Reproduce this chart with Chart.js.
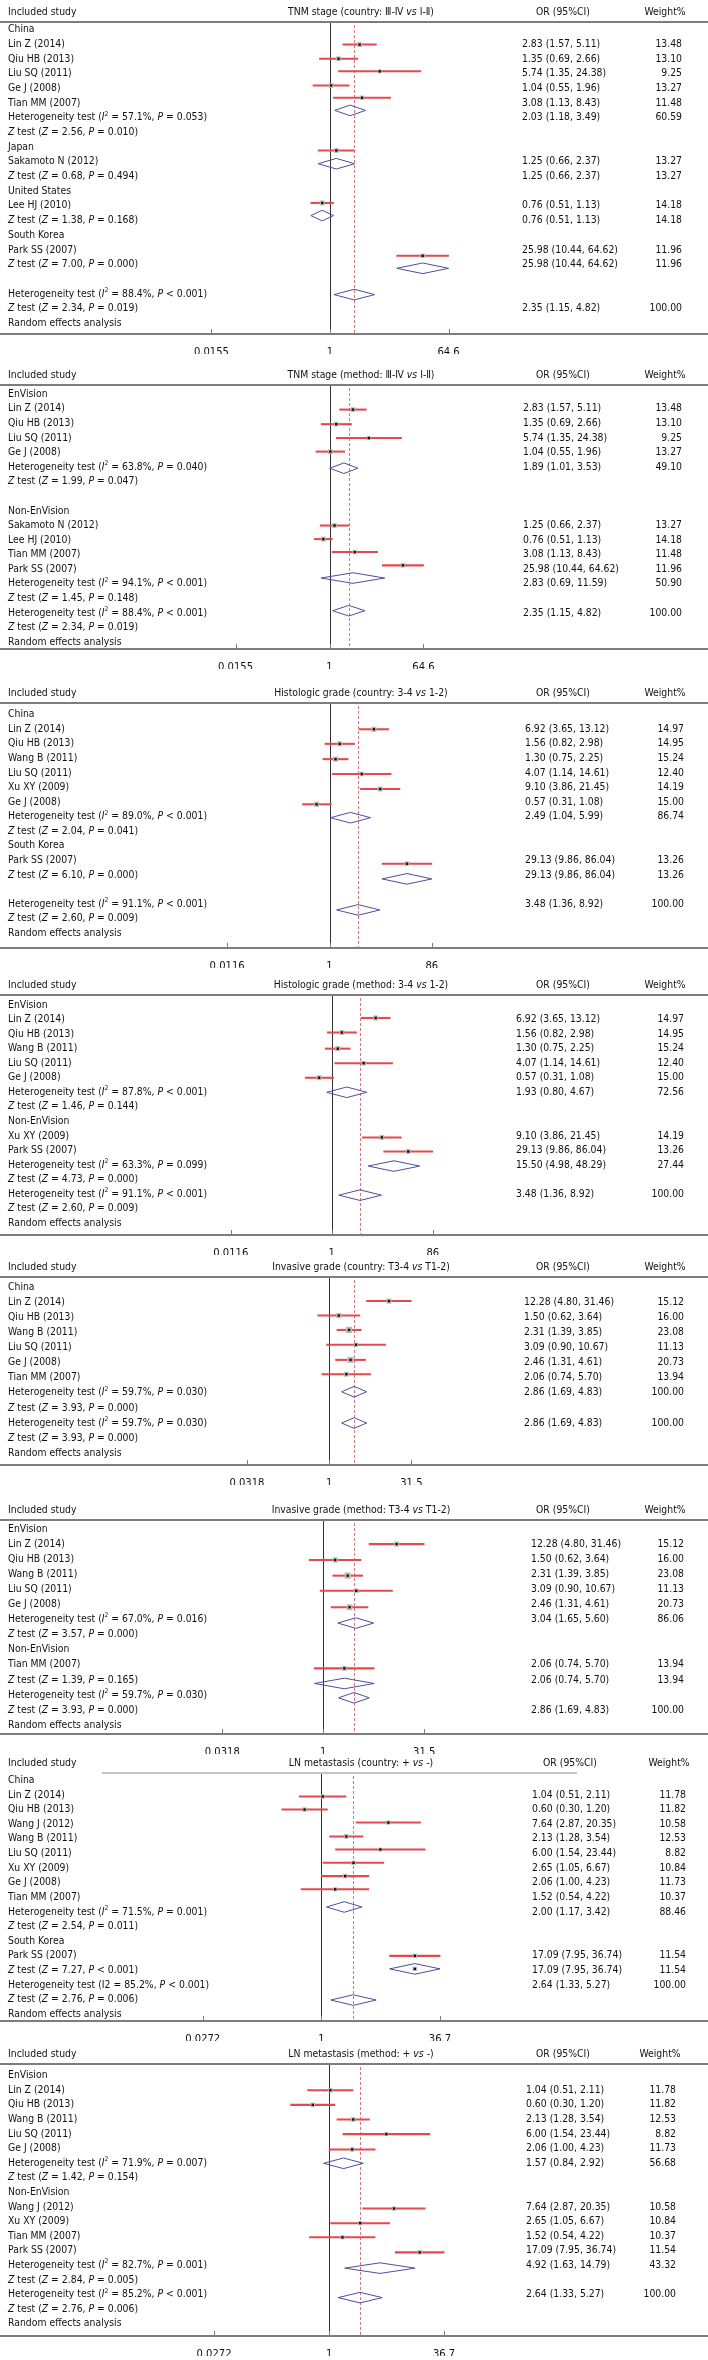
<!DOCTYPE html>
<html>
<head>
<meta charset="utf-8">
<script src="https://cdn.jsdelivr.net/npm/chart.js@4.4.1/dist/chart.umd.min.js"></script>
<style>
  html, body { margin: 0; padding: 0; background: #fff; }
  #page { position: relative; width: 708px; height: 2360px; overflow: hidden; }
  #page canvas { position: absolute; left: 0; }
</style>
</head>
<body>
<div id="page"></div>
<script>
// ---- data ----
// rows: left column text, one entry per row ("" = empty row)
// or/lo/hi/wt: one entry per estimate; kind: s = study square, d = pooled diamond,
//   b = pooled diamond of a single study (square drawn inside it)
// textRow: row where the numbers are printed, markRow: where the mark sits (row units)

const tnmCountryTitle = "TNM stage (country: Ⅲ-Ⅳ *vs* Ⅰ-Ⅱ)";
const tnmCountryRows = ["China", "Lin Z (2014)", "Qiu HB (2013)", "Liu SQ (2011)", "Ge J (2008)", "Tian MM (2007)",
  "Heterogeneity test (*I*^2^ = 57.1%, *P* = 0.053)", "*Z* test (*Z* = 2.56, *P* = 0.010)",
  "Japan", "Sakamoto N (2012)", "*Z* test (*Z* = 0.68, *P* = 0.494)",
  "United States", "Lee HJ (2010)", "*Z* test (*Z* = 1.38, *P* = 0.168)",
  "South Korea", "Park SS (2007)", "*Z* test (*Z* = 7.00, *P* = 0.000)", "",
  "Heterogeneity test (*I*^2^ = 88.4%, *P* < 0.001)", "*Z* test (*Z* = 2.34, *P* = 0.019)", "Random effects analysis"];
const tnmCountryOr = [2.83, 1.35, 5.74, 1.04, 3.08, 2.03, 1.25, 1.25, 0.76, 0.76, 25.98, 25.98, 2.35];
const tnmCountryLo = [1.57, 0.69, 1.35, 0.55, 1.13, 1.18, 0.66, 0.66, 0.51, 0.51, 10.44, 10.44, 1.15];
const tnmCountryHi = [5.11, 2.66, 24.38, 1.96, 8.43, 3.49, 2.37, 2.37, 1.13, 1.13, 64.62, 64.62, 4.82];
const tnmCountryWt = [13.48, 13.10, 9.25, 13.27, 11.48, 60.59, 13.27, 13.27, 14.18, 14.18, 11.96, 11.96, 100];
const tnmCountryKind = "sssssdsdsdsdd";
const tnmCountryTextRow = [1, 2, 3, 4, 5, 6, 9, 10, 12, 13, 15, 16, 19];
const tnmCountryMarkRow = [1.02, 1.98, 2.84, 3.8, 4.64, 5.5, 8.23, 9.13, 11.8, 12.66, 15.4, 16.25, 18.04];
const tnmCountryTicks = [0.0155, 1, 64.6];

const tnmMethodTitle = "TNM stage (method: Ⅲ-Ⅳ *vs* Ⅰ-Ⅱ)";
const tnmMethodRows = ["EnVision", "Lin Z (2014)", "Qiu HB (2013)", "Liu SQ (2011)", "Ge J (2008)",
  "Heterogeneity test (*I*^2^ = 63.8%, *P* = 0.040)", "*Z* test (*Z* = 1.99, *P* = 0.047)", "",
  "Non-EnVision", "Sakamoto N (2012)", "Lee HJ (2010)", "Tian MM (2007)", "Park SS (2007)",
  "Heterogeneity test (*I*^2^ = 94.1%, *P* < 0.001)", "*Z* test (*Z* = 1.45, *P* = 0.148)",
  "Heterogeneity test (*I*^2^ = 88.4%, *P* < 0.001)", "*Z* test (*Z* = 2.34, *P* = 0.019)", "Random effects analysis"];
const tnmMethodOr = [2.83, 1.35, 5.74, 1.04, 1.89, 1.25, 0.76, 3.08, 25.98, 2.83, 2.35];
const tnmMethodLo = [1.57, 0.69, 1.35, 0.55, 1.01, 0.66, 0.51, 1.13, 10.44, 0.69, 1.15];
const tnmMethodHi = [5.11, 2.66, 24.38, 1.96, 3.53, 2.37, 1.13, 8.43, 64.62, 11.59, 4.82];
const tnmMethodWt = [13.48, 13.10, 9.25, 13.27, 49.10, 13.27, 14.18, 11.48, 11.96, 50.90, 100];
const tnmMethodKind = "ssssdssssdd";
const tnmMethodTextRow = [1, 2, 3, 4, 5, 9, 10, 11, 12, 13, 15];
const tnmMethodMarkRow = [1.05, 2.05, 3.0, 3.93, 5.07, 9.0, 9.93, 10.82, 11.73, 12.6, 14.84];
const tnmMethodTicks = [0.0155, 1, 64.6];

const histCountryTitle = "Histologic grade (country: 3-4 *vs* 1-2)";
const histCountryRows = ["China", "Lin Z (2014)", "Qiu HB (2013)", "Wang B (2011)", "Liu SQ (2011)", "Xu XY (2009)", "Ge J (2008)",
  "Heterogeneity test (*I*^2^ = 89.0%, *P* < 0.001)", "*Z* test (*Z* = 2.04, *P* = 0.041)",
  "South Korea", "Park SS (2007)", "*Z* test (*Z* = 6.10, *P* = 0.000)", "",
  "Heterogeneity test (*I*^2^ = 91.1%, *P* < 0.001)", "*Z* test (*Z* = 2.60, *P* = 0.009)", "Random effects analysis"];
const histCountryOr = [6.92, 1.56, 1.30, 4.07, 9.10, 0.57, 2.49, 29.13, 29.13, 3.48];
const histCountryLo = [3.65, 0.82, 0.75, 1.14, 3.86, 0.31, 1.04, 9.86, 9.86, 1.36];
const histCountryHi = [13.12, 2.98, 2.25, 14.61, 21.45, 1.08, 5.99, 86.04, 86.04, 8.92];
const histCountryWt = [14.97, 14.95, 15.24, 12.40, 14.19, 15.00, 86.74, 13.26, 13.26, 100];
const histCountryKind = "ssssssdsdd";
const histCountryTextRow = [1, 2, 3, 4, 5, 6, 7, 10, 11, 13];
const histCountryMarkRow = [1.0, 2.0, 3.05, 4.07, 5.1, 6.15, 7.07, 10.23, 11.27, 13.4];
const histCountryTicks = [0.0116, 1, 86];

const histMethodTitle = "Histologic grade (method: 3-4 *vs* 1-2)";
const histMethodRows = ["EnVision", "Lin Z (2014)", "Qiu HB (2013)", "Wang B (2011)", "Liu SQ (2011)", "Ge J (2008)",
  "Heterogeneity test (*I*^2^ = 87.8%, *P* < 0.001)", "*Z* test (*Z* = 1.46, *P* = 0.144)",
  "Non-EnVision", "Xu XY (2009)", "Park SS (2007)",
  "Heterogeneity test (*I*^2^ = 63.3%, *P* = 0.099)", "*Z* test (*Z* = 4.73, *P* = 0.000)",
  "Heterogeneity test (*I*^2^ = 91.1%, *P* < 0.001)", "*Z* test (*Z* = 2.60, *P* = 0.009)", "Random effects analysis"];
const histMethodOr = [6.92, 1.56, 1.30, 4.07, 0.57, 1.93, 9.10, 29.13, 15.50, 3.48];
const histMethodLo = [3.65, 0.82, 0.75, 1.14, 0.31, 0.80, 3.86, 9.86, 4.98, 1.36];
const histMethodHi = [13.12, 2.98, 2.25, 14.61, 1.08, 4.67, 21.45, 86.04, 48.29, 8.92];
const histMethodWt = [14.97, 14.95, 15.24, 12.40, 15.00, 72.56, 14.19, 13.26, 27.44, 100];
const histMethodKind = "sssssdssdd";
const histMethodTextRow = [1, 2, 3, 4, 5, 6, 9, 10, 11, 13];
const histMethodMarkRow = [0.89, 1.89, 3.0, 4.0, 5.0, 6.0, 9.1, 10.07, 11.07, 13.07];
const histMethodTicks = [0.0116, 1, 86];

const invCountryTitle = "Invasive grade (country: T3-4 *vs* T1-2)";
const invCountryRows = ["China", "Lin Z (2014)", "Qiu HB (2013)", "Wang B (2011)", "Liu SQ (2011)", "Ge J (2008)", "Tian MM (2007)",
  "Heterogeneity test (*I*^2^ = 59.7%, *P* = 0.030)", "*Z* test (*Z* = 3.93, *P* = 0.000)",
  "Heterogeneity test (*I*^2^ = 59.7%, *P* = 0.030)", "*Z* test (*Z* = 3.93, *P* = 0.000)", "Random effects analysis"];
const invCountryOr = [12.28, 1.50, 2.31, 3.09, 2.46, 2.06, 2.86, 2.86];
const invCountryLo = [4.80, 0.62, 1.39, 0.90, 1.31, 0.74, 1.69, 1.69];
const invCountryHi = [31.46, 3.64, 3.85, 10.67, 4.61, 5.70, 4.83, 4.83];
const invCountryWt = [15.12, 16.00, 23.08, 11.13, 20.73, 13.94, 100, 100];
const invCountryKind = "ssssssdd";
const invCountryTextRow = [1, 2, 3, 4, 5, 6, 7, 9];
const invCountryMarkRow = [0.93, 1.89, 2.84, 3.82, 4.82, 5.77, 6.93, 9.0];
const invCountryTicks = [0.0318, 1, 31.5];

const invMethodTitle = "Invasive grade (method: T3-4 *vs* T1-2)";
const invMethodRows = ["EnVision", "Lin Z (2014)", "Qiu HB (2013)", "Wang B (2011)", "Liu SQ (2011)", "Ge J (2008)",
  "Heterogeneity test (*I*^2^ = 67.0%, *P* = 0.016)", "*Z* test (*Z* = 3.57, *P* = 0.000)",
  "Non-EnVision", "Tian MM (2007)", "*Z* test (*Z* = 1.39, *P* = 0.165)",
  "Heterogeneity test (*I*^2^ = 59.7%, *P* = 0.030)", "*Z* test (*Z* = 3.93, *P* = 0.000)", "Random effects analysis"];
const invMethodOr = [12.28, 1.50, 2.31, 3.09, 2.46, 3.04, 2.06, 2.06, 2.86];
const invMethodLo = [4.80, 0.62, 1.39, 0.90, 1.31, 1.65, 0.74, 0.74, 1.69];
const invMethodHi = [31.46, 3.64, 3.85, 10.67, 4.61, 5.60, 5.70, 5.70, 4.83];
const invMethodWt = [15.12, 16.00, 23.08, 11.13, 20.73, 86.06, 13.94, 13.94, 100];
const invMethodKind = "sssssdsdd";
const invMethodTextRow = [1, 2, 3, 4, 5, 6, 9, 10, 12];
const invMethodMarkRow = [1.0, 2.05, 3.09, 4.09, 5.18, 6.23, 9.23, 10.23, 11.18];
const invMethodTicks = [0.0318, 1, 31.5];

const lnCountryTitle = "LN metastasis (country: + *vs* -)";
const lnCountryRows = ["China", "Lin Z (2014)", "Qiu HB (2013)", "Wang J (2012)", "Wang B (2011)", "Liu SQ (2011)", "Xu XY (2009)", "Ge J (2008)", "Tian MM (2007)",
  "Heterogeneity test (*I*^2^ = 71.5%, *P* = 0.001)", "*Z* test (*Z* = 2.54, *P* = 0.011)",
  "South Korea", "Park SS (2007)", "*Z* test (*Z* = 7.27, *P* < 0.001)",
  "Heterogeneity test (I2 = 85.2%, *P* < 0.001)", "*Z* test (*Z* = 2.76, *P* = 0.006)", "Random effects analysis"];
const lnCountryOr = [1.04, 0.60, 7.64, 2.13, 6.00, 2.65, 2.06, 1.52, 2.00, 17.09, 17.09, 2.64];
const lnCountryLo = [0.51, 0.30, 2.87, 1.28, 1.54, 1.05, 1.00, 0.54, 1.17, 7.95, 7.95, 1.33];
const lnCountryHi = [2.11, 1.20, 20.35, 3.54, 23.44, 6.67, 4.23, 4.22, 3.42, 36.74, 36.74, 5.27];
const lnCountryWt = [11.78, 11.82, 10.58, 12.53, 8.82, 10.84, 11.73, 10.37, 88.46, 11.54, 11.54, 100];
const lnCountryKind = "ssssssssdsbd";
const lnCountryTextRow = [1, 2, 3, 4, 5, 6, 7, 8, 9, 12, 13, 14];
const lnCountryMarkRow = [1.11, 2.0, 2.89, 3.84, 4.73, 5.64, 6.55, 7.45, 8.66, 12.0, 12.89, 15.02];
const lnCountryTicks = [0.0272, 1, 36.7];

const lnMethodTitle = "LN metastasis (method: + *vs* -)";
const lnMethodRows = ["EnVision", "Lin Z (2014)", "Qiu HB (2013)", "Wang B (2011)", "Liu SQ (2011)", "Ge J (2008)",
  "Heterogeneity test (*I*^2^ = 71.9%, *P* = 0.007)", "*Z* test (*Z* = 1.42, *P* = 0.154)",
  "Non-EnVision", "Wang J (2012)", "Xu XY (2009)", "Tian MM (2007)", "Park SS (2007)",
  "Heterogeneity test (*I*^2^ = 82.7%, *P* = 0.001)", "*Z* test (*Z* = 2.84, *P* = 0.005)",
  "Heterogeneity test (*I*^2^ = 85.2%, *P* < 0.001)", "*Z* test (*Z* = 2.76, *P* = 0.006)", "Random effects analysis"];
const lnMethodOr = [1.04, 0.60, 2.13, 6.00, 2.06, 1.57, 7.64, 2.65, 1.52, 17.09, 4.92, 2.64];
const lnMethodLo = [0.51, 0.30, 1.28, 1.54, 1.00, 0.84, 2.87, 1.05, 0.54, 7.95, 1.63, 1.33];
const lnMethodHi = [2.11, 1.20, 3.54, 23.44, 4.23, 2.92, 20.35, 6.67, 4.22, 36.74, 14.79, 5.27];
const lnMethodWt = [11.78, 11.82, 12.53, 8.82, 11.73, 56.68, 10.58, 10.84, 10.37, 11.54, 43.32, 100];
const lnMethodKind = "sssssdssssdd";
const lnMethodTextRow = [1, 2, 3, 4, 5, 6, 9, 10, 11, 12, 13, 15];
const lnMethodMarkRow = [1.0, 2.0, 3.0, 4.0, 5.05, 6.0, 9.1, 10.1, 11.07, 12.1, 13.18, 15.2];
const lnMethodTicks = [0.0272, 1, 36.7];

// ---- page layout (pixels), kept apart from the data ----
// lineY: header rule, row0/rowH: first text row and row spacing, axisY: bottom axis,
// x1: pixel of OR = 1, k: pixels per decade, orX/wtX: number columns
const layout = [
  { lineY: 21.7,   row0: 29.3,   rowH: 14.67, axisY: 333.3,  x1: 330,   k: 65.5, orX: 522, wtX: 682 },
  { lineY: 385,    row0: 394.3,  rowH: 14.6,  axisY: 649.3,  x1: 329.5, k: 51.9, orX: 523, wtX: 682 },
  { lineY: 703.3,  row0: 715,    rowH: 14.55, axisY: 948,    x1: 329.5, k: 52.9, orX: 525, wtX: 684 },
  { lineY: 995,    row0: 1005,   rowH: 14.55, axisY: 1235,   x1: 331.8, k: 52.2, orX: 516, wtX: 684 },
  { lineY: 1277.3, row0: 1287.3, rowH: 15.09, axisY: 1465,   x1: 329.1, k: 54.9, orX: 524, wtX: 684 },
  { lineY: 1520,   row0: 1529,   rowH: 15.1,  axisY: 1734,   x1: 323.2, k: 67.4, orX: 531, wtX: 684 },
  { lineY: 1772.7, row0: 1780,   rowH: 14.63, axisY: 2020.7, x1: 321.4, k: 75.8, orX: 532, wtX: 686, rule: [102, 577], orHead: 570, wtHead: 669 },
  { lineY: 2064,   row0: 2075.7, rowH: 14.6,  axisY: 2336,   x1: 329.1, k: 73.5, orX: 526, wtX: 676, wtHead: 660 }
];

const panels = [
  { title: tnmCountryTitle, rows: tnmCountryRows, or: tnmCountryOr, lo: tnmCountryLo, hi: tnmCountryHi, wt: tnmCountryWt, kind: tnmCountryKind, textRow: tnmCountryTextRow, markRow: tnmCountryMarkRow, ticks: tnmCountryTicks },
  { title: tnmMethodTitle, rows: tnmMethodRows, or: tnmMethodOr, lo: tnmMethodLo, hi: tnmMethodHi, wt: tnmMethodWt, kind: tnmMethodKind, textRow: tnmMethodTextRow, markRow: tnmMethodMarkRow, ticks: tnmMethodTicks },
  { title: histCountryTitle, rows: histCountryRows, or: histCountryOr, lo: histCountryLo, hi: histCountryHi, wt: histCountryWt, kind: histCountryKind, textRow: histCountryTextRow, markRow: histCountryMarkRow, ticks: histCountryTicks },
  { title: histMethodTitle, rows: histMethodRows, or: histMethodOr, lo: histMethodLo, hi: histMethodHi, wt: histMethodWt, kind: histMethodKind, textRow: histMethodTextRow, markRow: histMethodMarkRow, ticks: histMethodTicks },
  { title: invCountryTitle, rows: invCountryRows, or: invCountryOr, lo: invCountryLo, hi: invCountryHi, wt: invCountryWt, kind: invCountryKind, textRow: invCountryTextRow, markRow: invCountryMarkRow, ticks: invCountryTicks },
  { title: invMethodTitle, rows: invMethodRows, or: invMethodOr, lo: invMethodLo, hi: invMethodHi, wt: invMethodWt, kind: invMethodKind, textRow: invMethodTextRow, markRow: invMethodMarkRow, ticks: invMethodTicks },
  { title: lnCountryTitle, rows: lnCountryRows, or: lnCountryOr, lo: lnCountryLo, hi: lnCountryHi, wt: lnCountryWt, kind: lnCountryKind, textRow: lnCountryTextRow, markRow: lnCountryMarkRow, ticks: lnCountryTicks },
  { title: lnMethodTitle, rows: lnMethodRows, or: lnMethodOr, lo: lnMethodLo, hi: lnMethodHi, wt: lnMethodWt, kind: lnMethodKind, textRow: lnMethodTextRow, markRow: lnMethodMarkRow, ticks: lnMethodTicks }
];

// ---- styles ----
const FAMILY = '"DejaVu Sans", "Liberation Sans", sans-serif';
const SIZE = 10;
const SX = 0.93;          // the original type is a little condensed
const HEAD_PAD = 22;      // space above the header rule
const AXIS_H = 20;        // x axis: tick labels
const TEXT = '#111';
const RULE = '#7d7d7d';
const CI_RED = '#e5484d';
const DIAMOND = '#4b4f9a';
const DIAMOND_HALF = 5.3; // px

Chart.defaults.font.family = FAMILY;
Chart.defaults.font.size = SIZE;
Chart.defaults.color = TEXT;

function drawRich(ctx, str, x, y, align) {
  const parts = str.split(/(\*[^*]+\*|\^[^^]+\^)/).filter(s => s.length);
  const segs = parts.map(p => {
    let t = p, font = SIZE + 'px ' + FAMILY, dy = 0;
    if (p[0] === '*') { t = p.slice(1, -1); font = 'italic ' + SIZE + 'px ' + FAMILY; }
    else if (p[0] === '^') { t = p.slice(1, -1); font = (SIZE * 0.65) + 'px ' + FAMILY; dy = -SIZE * 0.38; }
    ctx.font = font;
    return { t, font, dy, w: ctx.measureText(t).width };
  });
  const total = segs.reduce((s, g) => s + g.w, 0) * SX;
  let sx = x;
  if (align === 'center') sx = x - total / 2;
  else if (align === 'right') sx = x - total;
  ctx.save();
  ctx.translate(sx, y);
  ctx.scale(SX, 1);
  let off = 0;
  segs.forEach(g => {
    ctx.font = g.font;
    ctx.fillText(g.t, off, g.dy);
    off += g.w;
  });
  ctx.restore();
}

function forestPlugin(p, L) {
  const overall = p.or[p.or.length - 1];
  return {
    id: 'forest',
    beforeDatasetsDraw(chart) {
      const { ctx, chartArea: a, scales: { x } } = chart;
      ctx.save();
      ctx.lineWidth = 1;
      const x0 = Math.round(x.getPixelForValue(1)) + 0.5;
      ctx.strokeStyle = '#333';
      ctx.beginPath(); ctx.moveTo(x0, a.top); ctx.lineTo(x0, a.bottom); ctx.stroke();
      const xd = Math.round(x.getPixelForValue(overall)) + 0.5;
      ctx.strokeStyle = '#d8767a';
      ctx.setLineDash([3, 2]);
      ctx.beginPath(); ctx.moveTo(xd, a.top + 3); ctx.lineTo(xd, a.bottom); ctx.stroke();
      ctx.restore();
    },
    afterDraw(chart) {
      const { ctx, chartArea: a, scales: { x, y } } = chart;
      ctx.save();
      // header rule
      const rule = L.rule || [0, chart.width];
      ctx.fillStyle = L.rule ? '#c4c4c4' : RULE;
      ctx.fillRect(rule[0], a.top - 1, rule[1] - rule[0], 2);
      // tick marks point up from the axis
      ctx.strokeStyle = RULE;
      ctx.lineWidth = 1;
      p.ticks.forEach(v => {
        const px = Math.round(x.getPixelForValue(v)) + 0.5;
        ctx.beginPath(); ctx.moveTo(px, a.bottom); ctx.lineTo(px, a.bottom - 5); ctx.stroke();
      });
      ctx.fillStyle = TEXT;
      ctx.textBaseline = 'middle';
      ctx.textAlign = 'left';
      // header row
      const hy = a.top - 10;
      drawRich(ctx, 'Included study', 8, hy, 'left');
      drawRich(ctx, p.title, 361, hy, 'center');
      drawRich(ctx, 'OR (95%CI)', L.orHead || 563, hy, 'center');
      drawRich(ctx, 'Weight%', L.wtHead || 665, hy, 'center');
      // left column
      p.rows.forEach((r, i) => { if (r) drawRich(ctx, r, 8, y.getPixelForValue(i), 'left'); });
      // numbers
      p.or.forEach((v, i) => {
        const ry = y.getPixelForValue(p.textRow[i]);
        drawRich(ctx, v.toFixed(2) + ' (' + p.lo[i].toFixed(2) + ', ' + p.hi[i].toFixed(2) + ')', L.orX, ry, 'left');
        drawRich(ctx, p.wt[i].toFixed(2), L.wtX, ry, 'right');
      });
      ctx.restore();
    }
  };
}

const page = document.getElementById('page');

panels.forEach((p, n) => {
  const L = layout[n];
  const top = L.lineY - HEAD_PAD;
  const height = Math.round(L.axisY - L.lineY + HEAD_PAD + AXIS_H);
  const canvas = document.createElement('canvas');
  canvas.width = 708;
  canvas.height = height;
  canvas.style.top = top + 'px';
  page.appendChild(canvas);

  const studies = [], cis = [], diamonds = [], boxR = [];
  p.or.forEach((v, i) => {
    const m = p.markRow[i];
    const k = p.kind[i];
    if (k === 's' || k === 'b') {
      studies.push({ x: v, y: m });
      boxR.push(1.3 * Math.sqrt(p.wt[i]) / Math.SQRT2);
    }
    if (k === 's') cis.push({ x: [p.lo[i], p.hi[i]], y: m });
    if (k === 'd' || k === 'b') {
      const h = DIAMOND_HALF / L.rowH;
      diamonds.push([
        { x: p.lo[i], y: m }, { x: v, y: m - h }, { x: p.hi[i], y: m },
        { x: v, y: m + h }, { x: p.lo[i], y: m }
      ]);
    }
  });

  const datasets = [
    { type: 'scatter', data: studies, pointStyle: 'rect', pointRadius: 1.7, backgroundColor: '#111', borderWidth: 0, order: 0 },
    { type: 'scatter', data: studies, pointStyle: 'rect', pointRadius: boxR, backgroundColor: '#b9b9b9', borderWidth: 0, order: 1 },
    { type: 'bar', indexAxis: 'y', data: cis, backgroundColor: CI_RED, barThickness: 1.4, order: 2 }
  ];
  diamonds.forEach(d => datasets.push({
    type: 'scatter', data: d, showLine: true, borderColor: DIAMOND, borderWidth: 1,
    pointRadius: 0, fill: false, tension: 0, order: 3
  }));

  new Chart(canvas, {
    type: 'scatter',
    data: { datasets },
    options: {
      responsive: false,
      devicePixelRatio: 1,
      animation: false,
      events: [],
      layout: { padding: { top: HEAD_PAD, left: 0, right: 0, bottom: 0 }, autoPadding: false },
      plugins: { legend: { display: false }, tooltip: { enabled: false } },
      scales: {
        x: {
          type: 'logarithmic',
          bounds: 'data',
          offset: false,
          beginAtZero: false,
          min: Math.pow(10, -L.x1 / L.k),
          max: Math.pow(10, (708 - L.x1) / L.k),
          grid: { display: false, offset: false },
          border: { display: true, color: RULE, width: 2 },
          afterBuildTicks: s => { s.ticks = p.ticks.map(v => ({ value: v })); },
          afterFit: s => { s.height = AXIS_H; },
          ticks: {
            autoSkip: false, maxRotation: 0, padding: 4, color: TEXT,
            font: { size: SIZE },
            callback: v => String(v)
          }
        },
        y: {
          type: 'linear',
          reverse: true,
          bounds: 'data',
          offset: false,
          grace: 0,
          beginAtZero: false,
          grid: { offset: false },
          min: (L.lineY - L.row0) / L.rowH,
          max: (L.axisY - L.row0) / L.rowH,
          display: false
        }
      }
    },
    plugins: [forestPlugin(p, L)]
  });
});
</script>
</body>
</html>
